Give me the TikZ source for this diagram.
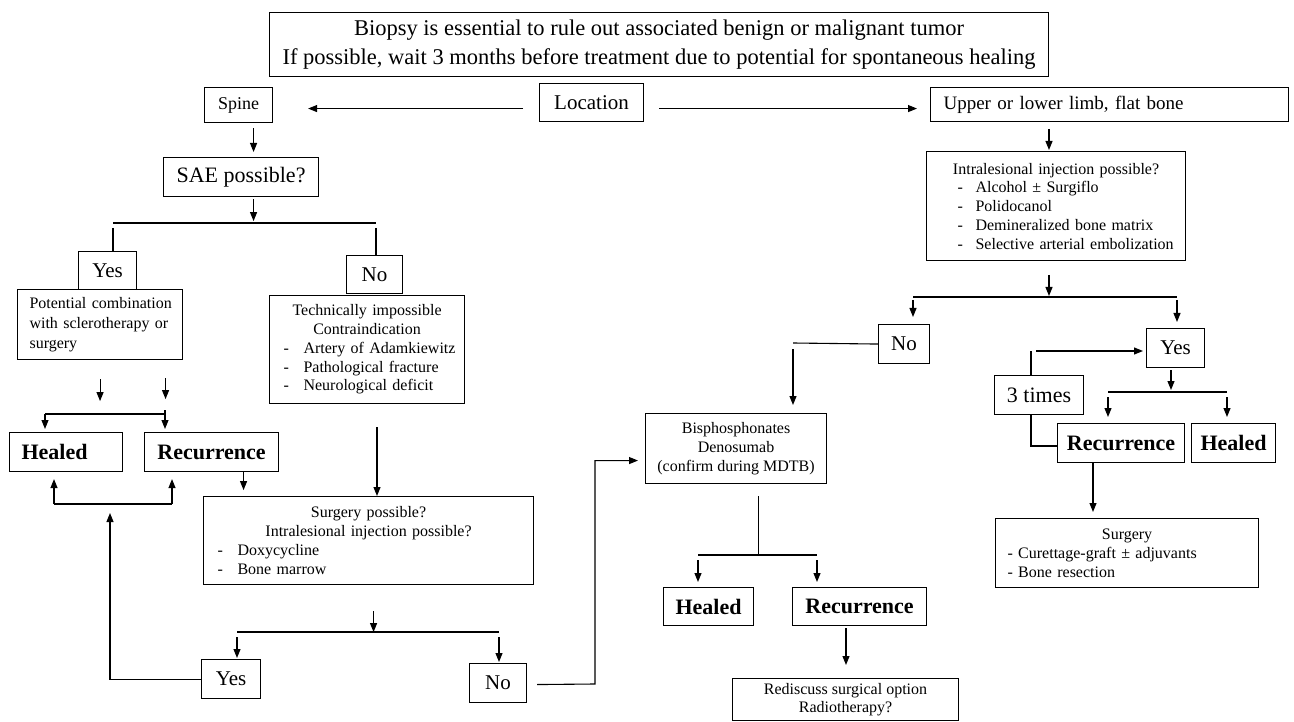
\documentclass[tikz,border=0pt]{standalone}
\usepackage{fontspec}
\setmainfont{Liberation Serif}
\usetikzlibrary{arrows.meta}
\newcommand\itm[4]{\makebox[#1pt][l]{\hspace*{#2pt}\makebox[#3pt][l]{-}#4}}
\begin{document}
\begin{tikzpicture}[x=1pt,y=-1pt,
 box/.style={draw, line width=1.1pt, inner sep=0pt, anchor=north west, align=center, font=\fontsize{16}{19}\selectfont},
 ln/.style={line width=1.1pt},
 arr/.style={line width=1.1pt, -{Triangle[length=9pt,width=7pt]}},
 mid/.style={font=\fontsize{21}{25}\selectfont},
 bld/.style={font=\fontsize{22}{26}\selectfont\bfseries},
]
\useasboundingbox (0,0) rectangle (1294,722);

% ---------- nodes ----------
\node[box, minimum width=779pt, minimum height=64pt, font=\fontsize{22.5}{29}\selectfont] (top) at (269,12)
 {Biopsy is essential to rule out associated benign or malignant tumor\\If possible, wait 3 months before treatment due to potential for spontaneous healing};
\node[box, mid, minimum width=104pt, minimum height=38pt] (loc) at (539,83) {Location};
\node[box, minimum width=68pt, minimum height=35pt, font=\fontsize{18}{22}\selectfont] (spine) at (204,87) {Spine};
\node[box, minimum height=34pt, text width=332pt, inner xsep=13pt, align=left, font=\fontsize{19}{22}\selectfont] (upper) at (930,87) {Upper or lower limb, flat bone};
\node[box, minimum width=155pt, minimum height=39pt, font=\fontsize{22}{26}\selectfont] (sae) at (163,157) {SAE possible?};
\node[box, mid, minimum width=58pt, minimum height=38pt] (yes1) at (78,251) {Yes};
\node[box, mid, minimum width=56pt, minimum height=38pt] (no1) at (346,255) {No};
\node[box, minimum height=70pt, text width=141pt, inner xsep=12pt, align=left, font=\fontsize{16}{20}\selectfont] (pot) at (17,289)
 {\mbox{Potential combination}\\\mbox{with sclerotherapy or}\\surgery};
\node[box, minimum height=108pt, text width=195pt, font=\fontsize{16}{18.8}\selectfont] (tech) at (269,295)
 {Technically impossible\\Contraindication\\\itm{195}{14}{20}{Artery of Adamkiewitz}\\\itm{195}{14}{20}{Pathological fracture}\\\itm{195}{14}{20}{Neurological deficit}};
\node[box, bld, minimum height=39pt, text width=89pt, inner xsep=12pt, align=left] (heal1) at (9,432) {Healed};
\node[box, bld, minimum width=134pt, minimum height=39pt] (rec1) at (144,432) {Recurrence};
\node[box, minimum height=88pt, text width=330pt, font=\fontsize{16}{19}\selectfont] (surg1) at (203,496)
 {Surgery possible?\\Intralesional injection possible?\\\itm{330}{14}{20}{Doxycycline}\\\itm{330}{14}{20}{Bone marrow}};
\node[box, mid, minimum width=59pt, minimum height=39pt] (yes2) at (201,659) {Yes};
\node[box, mid, minimum width=57pt, minimum height=39pt] (no2) at (469,663) {No};
\node[box, minimum width=181pt, minimum height=70pt] (bis) at (645,413)
 {Bisphosphonates\\Denosumab\\(confirm during MDTB)};
\node[box, bld, minimum width=90pt, minimum height=38pt] (heal2) at (663,587) {Healed};
\node[box, bld, minimum width=134pt, minimum height=38pt] (rec2) at (792,587) {Recurrence};
\node[box, minimum width=226pt, minimum height=42pt, font=\fontsize{16}{18}\selectfont] (red) at (732,678)
 {Rediscuss surgical option\\Radiotherapy?};
\node[box, minimum height=109pt, text width=259pt, font=\fontsize{16}{18.75}\selectfont] (intra) at (926,151)
 {Intralesional injection possible?\\\itm{259}{31}{18}{Alcohol ± Surgiflo}\\\itm{259}{31}{18}{Polidocanol}\\\itm{259}{31}{18}{Demineralized bone matrix}\\\itm{259}{31}{18}{Selective arterial embolization}};
\node[box, mid, minimum width=51pt, minimum height=39pt] (no3) at (878,324) {No};
\node[box, mid, minimum width=58pt, minimum height=39pt] (yes3) at (1146,328) {Yes};
\node[box, minimum width=89pt, minimum height=39pt, font=\fontsize{22}{26}\selectfont] (three) at (994,375) {3 times};
\node[box, bld, minimum width=127pt, minimum height=39pt] (rec3) at (1057,423) {Recurrence};
\node[box, bld, minimum width=84pt, minimum height=39pt] (heal3) at (1191,423) {Healed};
\node[box, minimum height=69pt, text width=263pt, font=\fontsize{16}{19}\selectfont] (surg3) at (995,518)
 {Surgery\\\makebox[263pt][l]{\hspace*{12pt}- Curettage-graft ± adjuvants}\\\makebox[263pt][l]{\hspace*{12pt}- Bone resection}};

% ---------- connectors ----------
\draw[arr] ([shift={(-16,6)}]loc.west) -- ([shift={(35,3.5)}]spine.east);
\draw[arr] ([shift={(15,6)}]loc.east) -- ([shift={(-13,4)}]upper.west);

\draw[arr] ([shift={(15,5)}]spine.south) -- ([shift={(12.5,-5)}]sae.north);
\draw[arr] ([shift={(12.5,2)}]sae.south) -- ([shift={(12.5,24)}]sae.south);
\coordinate (s1a) at (113,223); \coordinate (s1b) at (376,223);
\draw[ln] (s1a) -- (s1b);
\draw[ln] ([yshift=-5pt]s1a) -- (s1a |- yes1.north);
\draw[ln] ([yshift=-5pt]s1b) -- (s1b |- no1.north);

\draw[arr] ([shift={(0,19)}]pot.south) -- ([shift={(0,41)}]pot.south);
\draw[arr] ([shift={(65.5,18)}]pot.south) -- ([shift={(65.5,39)}]pot.south);
\coordinate (s2a) at (45,414); \coordinate (s2b) at (165,414);
\draw[ln] (s2a) -- (s2b);
\draw[arr, shorten >=3pt] (s2a) -- (s2a |- heal1.north);
\draw[arr, shorten >=3pt] ([yshift=4pt]s2b) -- (s2b |- rec1.north);
\draw[arr] ([xshift=32pt]rec1.south) -- ++(0,18);
\coordinate (s3a) at (54,504); \coordinate (s3b) at (172,504);
\draw[ln] (s3a) -- (s3b);
\draw[arr, shorten >=7pt] (s3a) -- (s3a |- heal1.south);
\draw[arr, shorten >=7pt] (s3b) -- (s3b |- rec1.south);
\coordinate (c2) at (110,504);
\draw[arr, shorten >=9pt] (yes2.west) -| (c2);

\coordinate (k1) at (377,427);
\draw[arr] (k1) -- (k1 |- surg1.north);
\draw[arr] ([shift={(5,26)}]surg1.south) -- ([shift={(5,47)}]surg1.south);
\coordinate (s4a) at (237,632); \coordinate (s4b) at (499,632);
\draw[ln] (s4a) -- (s4b);
\draw[arr, shorten >=1pt] ([yshift=-5pt]s4a) -- (s4a |- yes2.north);
\draw[arr, shorten >=1pt] ([yshift=-5pt]s4b) -- (s4b |- no2.north);
\coordinate (m1) at (595,684);
\draw[arr, shorten >=7pt] ([shift={(10,1.5)}]no2.east) -- (m1) |- ([yshift=-12pt]bis.west);

\draw[ln] ([shift={(22.5,12)}]bis.south) -- ([shift={(22.5,72)}]bis.south);
\coordinate (s5a) at (698,555); \coordinate (s5b) at (817,555);
\draw[ln] (s5a) -- (s5b);
\draw[arr, shorten >=5pt] ([yshift=-5pt]s5a) -- (s5a |- heal2.north);
\draw[arr, shorten >=5pt] ([yshift=-5pt]s5b) -- (s5b |- rec2.north);
\coordinate (o1) at (846,628);
\draw[arr, shorten >=13pt] (o1) -- (o1 |- red.north);

\coordinate (p1) at (1049,129);
\draw[arr, shorten >=1pt] (p1) -- (p1 |- intra.north);
\coordinate (q1) at (1049,275);
\draw[arr] (q1) -- ++(0,21);
\coordinate (s6a) at (913,297); \coordinate (s6b) at (1177,297);
\draw[ln] (s6a) -- (s6b);
\draw[arr, shorten >=7pt] ([yshift=-3pt]s6a) -- (s6a |- no3.north);
\draw[arr, shorten >=6pt] ([yshift=-3pt]s6b) -- (s6b |- yes3.north);
\coordinate (r1) at (793,343);
\draw[ln] (no3.west) -- (r1);
\draw[arr, shorten >=8pt] ([yshift=-6pt]r1) -- (r1 |- bis.north);
\coordinate (t1) at (1031,351);
\draw[ln] (t1) -- (t1 |- three.north);
\draw[arr, shorten >=3pt] ([xshift=5pt]t1) -- (t1 -| yes3.west);
\coordinate (t2) at (1031,446);
\draw[ln] (t2 |- three.south) -- (t2) -- (t2 -| rec3.west);
\coordinate (u1) at (1171,370);
\draw[arr] (u1) -- ++(0,20);
\coordinate (s7a) at (1108,392); \coordinate (s7b) at (1227,392);
\draw[ln] (s7a) -- (s7b);
\draw[arr, shorten >=6pt] ([yshift=-5pt]s7a) -- (s7a |- rec3.north);
\draw[arr, shorten >=6pt] ([yshift=-5pt]s7b) -- (s7b |- heal3.north);
\coordinate (v1) at (1093,462);
\draw[arr, shorten >=6pt] (v1) -- (v1 |- surg3.north);
\end{tikzpicture}
\end{document}
